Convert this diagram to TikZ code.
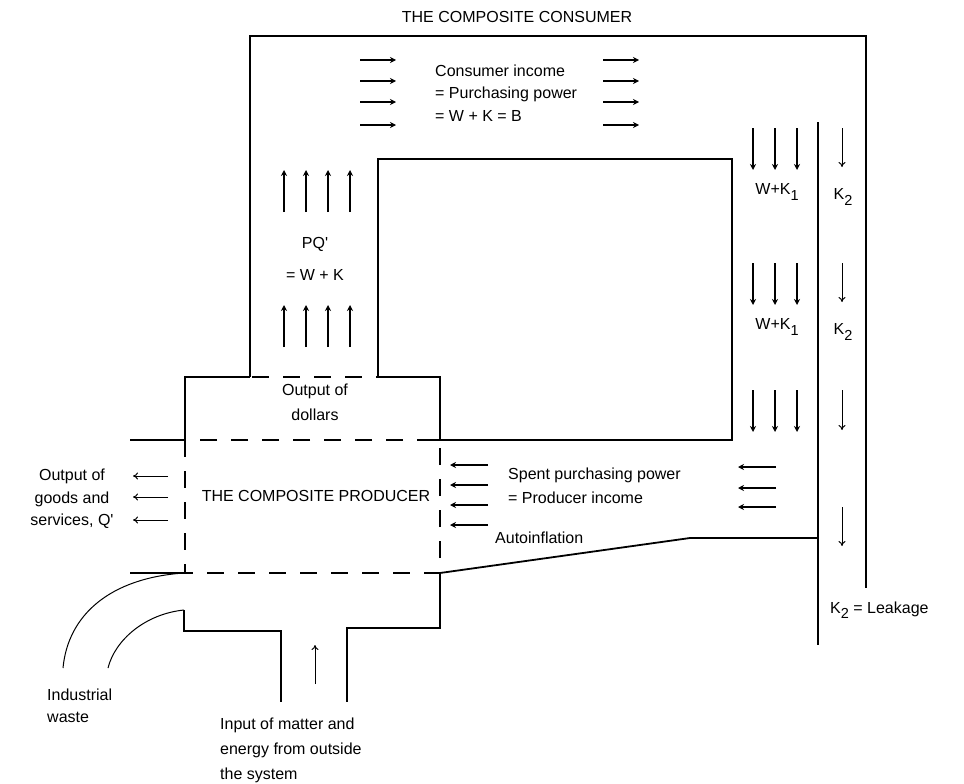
\documentclass[tikz,border=0pt]{standalone}
\usepackage{fontspec}
\setmainfont{Liberation Sans}
\usetikzlibrary{arrows.meta}
\newcommand{\lowsub}[1]{\raisebox{-0.32em}{\fontsize{14.5}{15}\selectfont #1}}
\newcommand{\prm}{\textquotesingle}
\tikzset{
    flowchart/.style={x=1pt, y=-1pt, font=\fontsize{16}{18}\selectfont},
    wall/.style={line width=1.8pt},
    dashwall/.style={line width=1.8pt, dash pattern=on 17pt off 14pt},
    waste/.style={line width=1pt},
    money/.style={-{Stealth[length=6pt,width=6pt]}, line width=1.6pt},
    matter/.style={-{To[length=5pt,width=7pt]}, line width=1pt},
    txt/.style={inner sep=0pt},
}
\begin{document}
\begin{tikzpicture}[flowchart]
    \useasboundingbox (0,0) rectangle (964,784);

    % the consumer
    \draw[wall] (250,377) -- (250,36) -- (866,36) -- (866,588);
    \draw[wall] (433,440) -- (732,440) -- (732,159) -- (378,159) -- (378,377);
    \draw[wall] (818,122) -- (818,645);

    % the producer
    \draw[wall] (185,440) |- (250,377);
    \draw[wall] (378,377) -| (440,440);
    \draw[dashwall] (252,377) -- (378,377);
    \draw[dashwall] (185,440) rectangle (440,573);
    \draw[wall] (130,440) -- (185,440);
    \draw[wall] (130,573) -- (185,573);
    \draw[wall] (440,573) -- (690,538) -- (818,538);
    \draw[wall] (440,573) |- (347,628) -- (347,702);
    \draw[wall] (184,610) |- (281,631) -- (281,702);

    % industrial waste
    \draw[waste] (184,573) .. controls (110,578) and (68,615) .. (63,668);
    \draw[waste] (184,610) .. controls (145,614) and (115,640) .. (108,668);

    % flows of money
    \foreach \y in {60,81,102,125} {
        \draw[money] (360,\y) -- (396,\y);
        \draw[money] (603,\y) -- (639,\y);
    }
    \foreach \x in {284,306,328,350} {
        \draw[money] (\x,212) -- (\x,170);
        \draw[money] (\x,347) -- (\x,305);
    }
    \foreach \x in {753,775,797} {
        \draw[money] (\x,128) -- (\x,170);
        \draw[money] (\x,263) -- (\x,305);
        \draw[money] (\x,390) -- (\x,432);
    }
    \foreach \y in {465,485,505,525}
        \draw[money] (488,\y) -- (450,\y);
    \foreach \y in {467,488,507}
        \draw[money] (776,\y) -- (738,\y);

    % leakage, goods and matter
    \draw[matter] (842,128) -- (842,167);
    \draw[matter] (842,263) -- (842,302);
    \draw[matter] (842,390) -- (842,430);
    \draw[matter] (842,507) -- (842,546);
    \foreach \y in {476,497,520}
        \draw[matter] (168,\y) -- (133,\y);
    \draw[matter] (315,684) -- (315,645);

    % labels
    \node[txt] (consumer) at (517,17) {THE COMPOSITE CONSUMER};
    \node[txt, anchor=west, align=left, font=\fontsize{16}{22.5}\selectfont]
        (income) at (435,93) {Consumer income\\= Purchasing power\\= W + K = B};
    \node[txt, align=center, font=\fontsize{16}{32}\selectfont]
        (pq) at (315,259) {PQ\prm\\= W + K};
    \node[txt, align=center, font=\fontsize{16}{25}\selectfont]
        (dollars) at (315,402) {Output of\\dollars};
    \node[txt] (producer) at (316,496) {THE COMPOSITE PRODUCER};
    \node[txt, align=center, font=\fontsize{16}{22.5}\selectfont]
        (goods) at (72,499) {Output of\\goods and\\services, Q\prm};
    \node[txt, anchor=west, align=left, font=\fontsize{16}{24}\selectfont]
        (spent) at (508,486) {Spent purchasing power\\= Producer income};
    \node[txt, anchor=west] (auto) at (495,538) {Autoinflation};
    \node[txt] (wk1) at (777,192) {W+K\lowsub{1}};
    \node[txt] (wk2) at (777,327) {W+K\lowsub{1}};
    \node[txt] (ka) at (843,197) {K\lowsub{2}};
    \node[txt] (kb) at (843,332) {K\lowsub{2}};
    \node[txt, anchor=west] (leak) at (830,610) {K\lowsub{2} = Leakage};
    \node[txt, anchor=west, align=left, font=\fontsize{16}{22}\selectfont]
        (waste) at (47,706) {Industrial\\waste};
    \node[txt, anchor=west, align=left, font=\fontsize{16}{25}\selectfont]
        (input) at (220,750) {Input of matter and\\energy from outside\\the system};
\end{tikzpicture}
\end{document}
